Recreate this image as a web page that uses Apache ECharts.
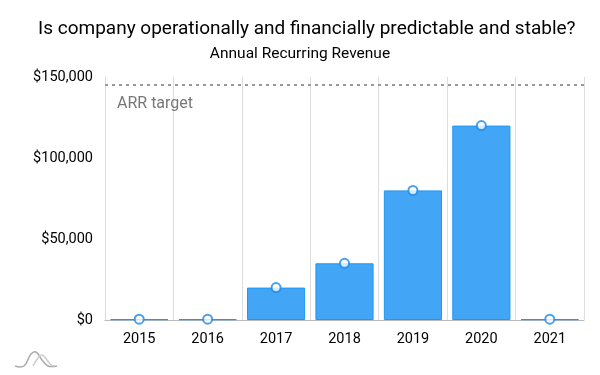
<!DOCTYPE html>
<html><head><meta charset="utf-8">
<script src="https://cdn.jsdelivr.net/npm/echarts@6/dist/echarts.min.js"></script>
<style>html,body{margin:0;padding:0;background:#fff}#c{width:600px;height:375px}</style>
</head><body><div id="c"></div>
<script>
const categories = ['2015','2016','2017','2018','2019','2020','2021'];
const arrValues = [500, 500, 20000, 35000, 80000, 120000, 500];
const arrTarget = 145000;
const yTicks = [0, 50000, 100000, 150000];

const chart = echarts.init(document.getElementById('c'), null, {renderer:'canvas'});
const font = 'Roboto, "Noto Sans", sans-serif';
chart.setOption({
  animation: false,
  textStyle: {fontFamily: font},
  title: [
    {text: 'Is company operationally and financially predictable and stable?', left: 33, top: 15,
     textStyle: {fontSize: 19, fontWeight: 'normal', color: '#000', fontFamily: font}},
    {text: 'Annual Recurring Revenue', left: 'center', top: 41,
     textStyle: {fontSize: 15.5, fontWeight: 'normal', color: '#000', fontFamily: font}}
  ],
  grid: {left: 105, right: 16, top: 77, bottom: 55},
  xAxis: {
    type: 'category', data: categories,
    axisLine: {lineStyle: {color: '#bbb'}},
    axisTick: {show: false},
    axisLabel: {fontSize: 14.5, color: '#000', margin: 12},
    splitLine: {show: true, lineStyle: {color: '#ddd'}}
  },
  yAxis: {
    type: 'value', min: yTicks[0], max: yTicks[yTicks.length-1], interval: 50000,
    axisLabel: {fontSize: 14.5, color: '#000', margin: 12,
      formatter: v => '$' + v.toLocaleString('en-US')},
    splitLine: {show: false},
    axisLine: {show: true, lineStyle: {color: '#ddd'}}
  },
  graphic: [
    {type: 'polyline', shape: {points: [[15,366],[24,366],[31,354],[36,352],[42,360],[48,366],[57,366]], smooth: 0.4},
     style: {stroke: '#aaa', lineWidth: 1.5, fill: null}},
    {type: 'polyline', shape: {points: [[33,366],[38,358],[42,355],[47,360],[51,365],[55,366]], smooth: 0.4},
     style: {stroke: '#ccc', lineWidth: 1.5, fill: null}}
  ],
  series: [
    {type: 'bar', data: arrValues, barCategoryGap: '15%',
     itemStyle: {color: '#42a5f5', borderColor: '#2196f3', borderWidth: 1},
     markLine: {
       silent: true, symbol: 'none',
       lineStyle: {color: '#999', type: [3, 4], width: 2},
       label: {position: 'insideStartBottom', formatter: 'ARR target', color: '#777', fontSize: 16, distance: [12, 11]},
       data: [{yAxis: arrTarget}]
     }},
    {type: 'scatter', data: arrValues, symbol: 'circle', symbolSize: 9,
     itemStyle: {color: '#fff', borderColor: '#1e88e5', borderWidth: 2}, z: 5}
  ]
});
</script></body></html>
